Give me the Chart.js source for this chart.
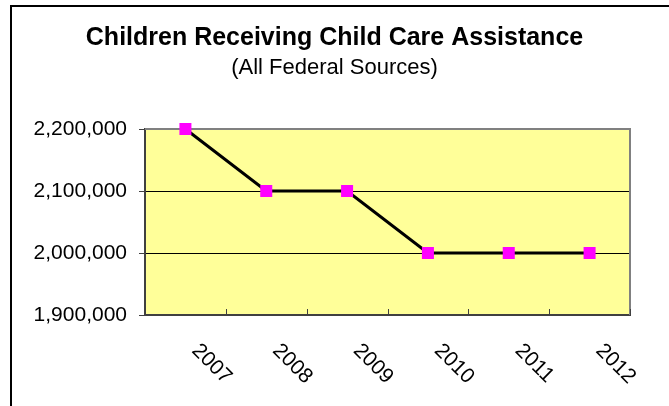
<!DOCTYPE html>
<html>
<head>
<meta charset="utf-8">
<script src="https://cdn.jsdelivr.net/npm/chart.js@4/dist/chart.umd.min.js"></script>
<style>
  html, body { margin: 0; padding: 0; background: #ffffff; }
  #wrap { width: 669px; height: 406px; position: relative; }
</style>
</head>
<body>
<div id="wrap"><canvas id="chartChildCare"></canvas></div>
<script>
// Chart data
const years = ['2007', '2008', '2009', '2010', '2011', '2012'];
const children = [2200000, 2100000, 2100000, 2000000, 2000000, 2000000];
const yMin = 1900000;
const yMax = 2200000;
const yStep = 100000;

const FONT = "'Liberation Sans', Arial, sans-serif";

// plot background, outer frame, inner ticks and rotated year labels
const excelLook = {
  id: 'excelLook',
  beforeDraw(chart) {
    const { ctx, chartArea: a } = chart;
    ctx.save();
    ctx.fillStyle = '#ffff99';
    ctx.fillRect(a.left, a.top, a.right - a.left, a.bottom - a.top);
    // outer chart frame (only top and left visible)
    ctx.strokeStyle = '#000000';
    ctx.lineWidth = 2;
    ctx.beginPath();
    ctx.moveTo(11, 406);
    ctx.lineTo(11, 6);
    ctx.lineTo(669, 6);
    ctx.stroke();
    ctx.restore();
  },
  beforeDatasetsDraw(chart) {
    const { ctx, chartArea: a } = chart;
    const x = chart.scales.x;
    ctx.save();
    // grey plot border on top and right
    ctx.strokeStyle = '#808080';
    ctx.lineWidth = 2;
    ctx.beginPath();
    ctx.moveTo(a.left, a.top);
    ctx.lineTo(a.right, a.top);
    ctx.lineTo(a.right, a.bottom);
    ctx.stroke();
    // small inward tick marks between categories
    ctx.strokeStyle = '#404040';
    ctx.lineWidth = 1;
    for (let i = 1; i <= years.length; i++) {
      const px = Math.round(x.getPixelForValue(i - 0.5)) + 0.5;
      ctx.beginPath();
      ctx.moveTo(px, a.bottom);
      ctx.lineTo(px, a.bottom - 6);
      ctx.stroke();
    }
    ctx.restore();
  },
  afterDraw(chart) {
    const { ctx, chartArea: a } = chart;
    const x = chart.scales.x;
    ctx.save();
    ctx.fillStyle = '#000000';
    ctx.font = '21px ' + FONT;
    ctx.textAlign = 'left';
    ctx.textBaseline = 'top';
    years.forEach((yr, i) => {
      const px = x.getPixelForValue(i);
      ctx.save();
      ctx.translate(px + 17, a.bottom + 25);
      ctx.rotate(Math.PI / 4);
      ctx.fillText(yr, 0, 0);
      ctx.restore();
    });
    ctx.restore();
  }
};

new Chart(document.getElementById('chartChildCare'), {
  type: 'line',
  data: {
    labels: years,
    datasets: [{
      label: 'Children',
      data: children,
      borderColor: '#000000',
      borderWidth: 3,
      tension: 0,
      fill: false,
      clip: false,
      pointStyle: 'rect',
      pointRadius: 8.5,
      pointHoverRadius: 8.5,
      pointBackgroundColor: '#ff00ff',
      pointBorderColor: '#ff00ff',
      pointBorderWidth: 0
    }]
  },
  options: {
    responsive: true,
    maintainAspectRatio: false,
    animation: false,
    layout: { padding: { top: 23, right: 0, bottom: 0, left: 0 } },
    plugins: {
      legend: { display: false },
      tooltip: { enabled: false },
      title: {
        display: true,
        text: 'Children Receiving Child Care Assistance',
        color: '#000000',
        font: { family: FONT, size: 25, weight: 'bold' },
        padding: { top: 0, bottom: 2 }
      },
      subtitle: {
        display: true,
        text: '(All Federal Sources)',
        color: '#000000',
        font: { family: FONT, size: 22 },
        padding: { top: 0, bottom: 47.6 }
      }
    },
    scales: {
      x: {
        offset: true,
        grid: { display: false },
        border: { display: true, color: '#404040', width: 2 },
        ticks: { display: false },
        afterFit(scale) { scale.height = 91; }
      },
      y: {
        min: yMin,
        max: yMax,
        ticks: {
          stepSize: yStep,
          color: '#000000',
          padding: 12,
          font: { family: FONT, size: 21 },
          callback: v => v.toLocaleString('en-US')
        },
        grid: {
          color: ctx => (ctx.tick && (ctx.tick.value === yMin || ctx.tick.value === yMax)) ? 'rgba(0,0,0,0)' : '#000000',
          lineWidth: 1,
          tickLength: 6,
          tickColor: '#404040'
        },
        border: { display: true, color: '#404040', width: 2 },
        afterFit(scale) { scale.width = 145; }
      },
      // empty right-hand margin so the titles stay centred on the whole canvas
      yRight: {
        position: 'right',
        display: true,
        grid: { display: false },
        border: { display: false },
        ticks: { display: false },
        afterFit(scale) { scale.width = 39; }
      }
    }
  },
  plugins: [excelLook]
});
</script>
</body>
</html>
